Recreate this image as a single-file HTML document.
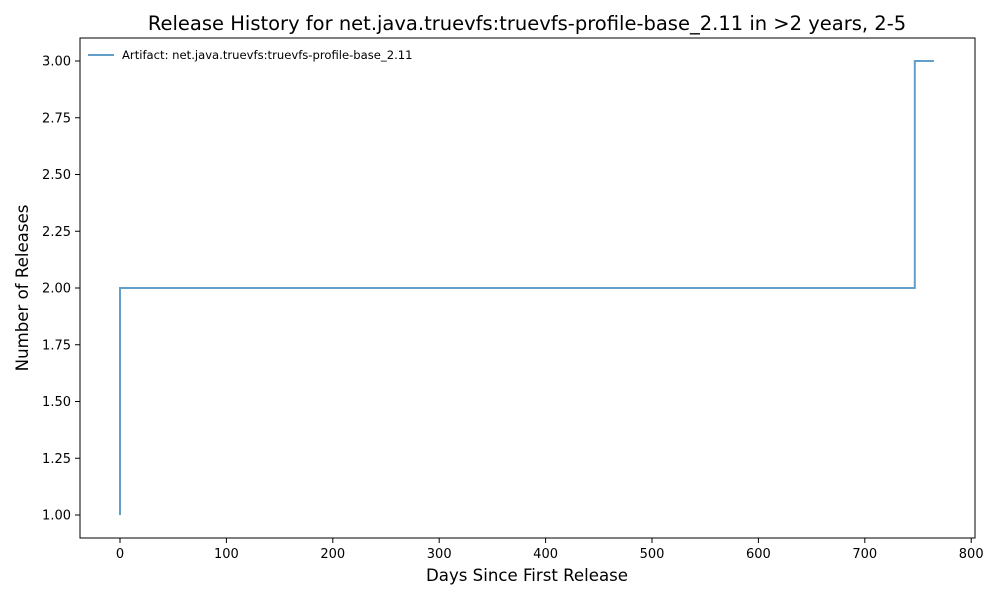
<!DOCTYPE html>
<html><head><meta charset="utf-8">
<style>
body{margin:0;background:#fff;}
svg text{font-family:"DejaVu Sans","Liberation Sans",sans-serif;fill:#000;}
</style></head>
<body>
<svg id="chart" width="1000" height="600">
<rect width="1000" height="600" fill="#fff"/>
<text x="527" y="30" font-size="19.5" text-anchor="middle">Release History for net.java.truevfs:truevfs-profile-base_2.11 in &gt;2 years, 2-5</text>
<g id="xt"></g>
<g id="yt"></g>
<g id="series"></g>
<rect x="80" y="38" width="895" height="500" fill="none" stroke="#000" stroke-width="1"/>
<text x="527" y="581" font-size="16.6" text-anchor="middle">Days Since First Release</text>
<text transform="translate(28,288) rotate(-90)" font-size="16.6" text-anchor="middle">Number of Releases</text>
<g>
<line x1="88" y1="55" x2="114" y2="55" stroke="#1f77b4" stroke-opacity="0.7" stroke-width="2"/>
<text x="122" y="59" font-size="11.6">Artifact: net.java.truevfs:truevfs-profile-base_2.11</text>
</g>
</svg>
<script>
const days = [0, 0, 747, 765];
const counts = [1, 2, 3, 3];
const xTicks = [0, 100, 200, 300, 400, 500, 600, 700, 800];
const yTicks = [1.00, 1.25, 1.50, 1.75, 2.00, 2.25, 2.50, 2.75, 3.00];
const NS = "http://www.w3.org/2000/svg";
function xs(v){return 120 + v * 1.064;}
function ys(v){return 515 - (v - 1) * 227;}
const xt = document.getElementById('xt'), yt = document.getElementById('yt'), sg = document.getElementById('series');
function mk(tag, attrs, parent){const e=document.createElementNS(NS,tag);for(const k in attrs)e.setAttribute(k,attrs[k]);parent.appendChild(e);return e;}
xTicks.forEach(t=>{
  const x=xs(t);
  const l=mk('line',{x1:x,x2:x,y1:538,y2:543,stroke:'#000'},xt);
  
  
  const tx=mk('text',{x:x,y:558,'font-size':13,'text-anchor':'middle'},xt);
  tx.textContent=t;
  
  
});
yTicks.forEach(t=>{
  const y=ys(t);
  const l=mk('line',{x1:75,x2:80,y1:y,y2:y,stroke:'#000'},yt);
  
  
  const tx=mk('text',{x:71,y:y+4.5,'font-size':13,'text-anchor':'end'},yt);
  tx.textContent=t.toFixed(2);
  
  
});
let d='M'+xs(days[0])+','+ys(counts[0]);
for(let i=1;i<days.length;i++){d+=' L'+xs(days[i])+','+ys(counts[i-1])+' L'+xs(days[i])+','+ys(counts[i]);}
const p=mk('path',{d:d,fill:'none',stroke:'#1f77b4','stroke-opacity':0.7,'stroke-width':2},sg);


</script>
</body></html>
